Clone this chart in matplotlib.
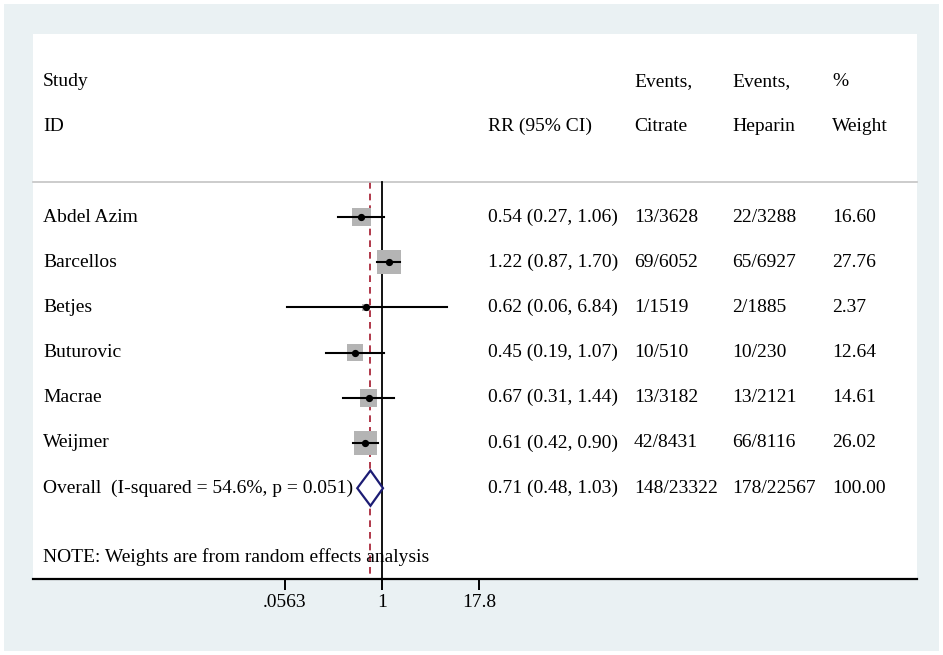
import numpy as np
import matplotlib.pyplot as plt
from matplotlib.patches import Rectangle, Polygon

plt.rcParams['font.family'] = ['Liberation Serif', 'DejaVu Serif']

studies = ["Abdel Azim", "Barcellos", "Betjes", "Buturovic", "Macrae", "Weijmer"]
rr = [0.54, 1.22, 0.62, 0.45, 0.67, 0.61]
lo = [0.27, 0.87, 0.06, 0.19, 0.31, 0.42]
hi = [1.06, 1.70, 6.84, 1.07, 1.44, 0.90]
ev_citrate = ["13/3628", "69/6052", "1/1519", "10/510", "13/3182", "42/8431"]
ev_heparin = ["22/3288", "65/6927", "2/1885", "10/230", "13/2121", "66/8116"]
weight = [16.60, 27.76, 2.37, 12.64, 14.61, 26.02]

overall_label = "Overall  (I-squared = 54.6%, p = 0.051)"
overall = (0.71, 0.48, 1.03)
overall_citrate = "148/23322"
overall_heparin = "178/22567"
overall_weight = 100.00

xticks = [0.0563, 1, 17.8]
xticklabels = [".0563", "1", "17.8"]

W, H = 943, 655
fig = plt.figure(figsize=(W / 100, H / 100), dpi=100)
fig.patch.set_facecolor("white")
fig.patches.append(Rectangle((4 / W, 4 / H), 935 / W, 647 / H, transform=fig.transFigure,
                             facecolor="#eaf1f3", edgecolor="none", zorder=-10))

L, R, T, B = 33, 917, 34, 579
ax = fig.add_axes([L / W, 1 - B / H, (R - L) / W, (B - T) / H])
ax.set_facecolor("white")
ax.set_xscale("log")
px_one, px_per_ln = 382.0, 33.7
ax.set_xlim(np.exp((L - px_one) / px_per_ln), np.exp((R - px_one) / px_per_ln))
ax.set_ylim(8.01, -4.05)

def colx(px):
    return (px - L) / (R - L)

tr = ax.get_yaxis_transform()  # x in axes fraction, y in data
fs = 14
c_study, c_rr, c_cit, c_hep, c_w = 43, 488, 634, 732, 832

# header
for px, top, bot in [(c_study, "Study", "ID"), (c_rr, "", "RR (95% CI)"),
                     (c_cit, "Events,", "Citrate"), (c_hep, "Events,", "Heparin"),
                     (c_w, "%", "Weight")]:
    ax.text(colx(px), -3, top, transform=tr, fontsize=fs, va="center", ha="left")
    ax.text(colx(px), -2, bot, transform=tr, fontsize=fs, va="center", ha="left")
ax.plot([0, 1], [-0.77, -0.77], transform=tr, color="#c4c4c4", lw=1.2, clip_on=False)

# reference lines
ax.plot([1, 1], [-0.77, 8.01], color="black", lw=1.3, zorder=2)
ax.plot([overall[0], overall[0]], [-0.77, 8.01], color="#a3172b", lw=1.2,
        dashes=(4, 3), zorder=1)

# studies
for i, name in enumerate(studies):
    side_px = 4.57 * np.sqrt(weight[i])
    ax.scatter([rr[i]], [i], marker="s", s=(side_px * 0.72) ** 2, color="#b4b4b4",
               edgecolors="none", zorder=3)
    ax.plot([lo[i], hi[i]], [i, i], color="black", lw=1.5, zorder=4)
    ax.plot([rr[i]], [i], marker="o", color="black", markersize=4.2, zorder=5)
    ax.text(colx(c_study), i, name, transform=tr, fontsize=fs, va="center")
    ax.text(colx(c_rr), i, f"{rr[i]:.2f} ({lo[i]:.2f}, {hi[i]:.2f})", transform=tr,
            fontsize=fs, va="center")
    ax.text(colx(c_cit), i, ev_citrate[i], transform=tr, fontsize=fs, va="center")
    ax.text(colx(c_hep), i, ev_heparin[i], transform=tr, fontsize=fs, va="center")
    ax.text(colx(c_w), i, f"{weight[i]:.2f}", transform=tr, fontsize=fs, va="center")

# overall
yo = len(studies)
est, olo, ohi = overall
dh = 0.39
ax.add_patch(Polygon([(olo, yo), (est, yo - dh), (ohi, yo), (est, yo + dh)], closed=True,
                     facecolor="white", edgecolor="#1c1c74", lw=1.6, zorder=6))
ax.text(colx(c_study), yo, overall_label, transform=tr, fontsize=fs, va="center")
ax.text(colx(c_rr), yo, f"{est:.2f} ({olo:.2f}, {ohi:.2f})", transform=tr, fontsize=fs, va="center")
ax.text(colx(c_cit), yo, overall_citrate, transform=tr, fontsize=fs, va="center")
ax.text(colx(c_hep), yo, overall_heparin, transform=tr, fontsize=fs, va="center")
ax.text(colx(c_w), yo, f"{overall_weight:.2f}", transform=tr, fontsize=fs, va="center")

ax.text(colx(c_study), 7.52, "NOTE: Weights are from random effects analysis", transform=tr,
        fontsize=fs, va="center")

# axes styling
for s in ["top", "left", "right"]:
    ax.spines[s].set_visible(False)
ax.spines["bottom"].set_linewidth(1.6)
ax.set_yticks([])
ax.set_xticks(xticks)
ax.set_xticklabels(xticklabels)
ax.minorticks_off()
ax.tick_params(axis="x", direction="out", length=8, width=1.4, labelsize=fs, pad=2.5)

fig.savefig("out.png", dpi=100)
